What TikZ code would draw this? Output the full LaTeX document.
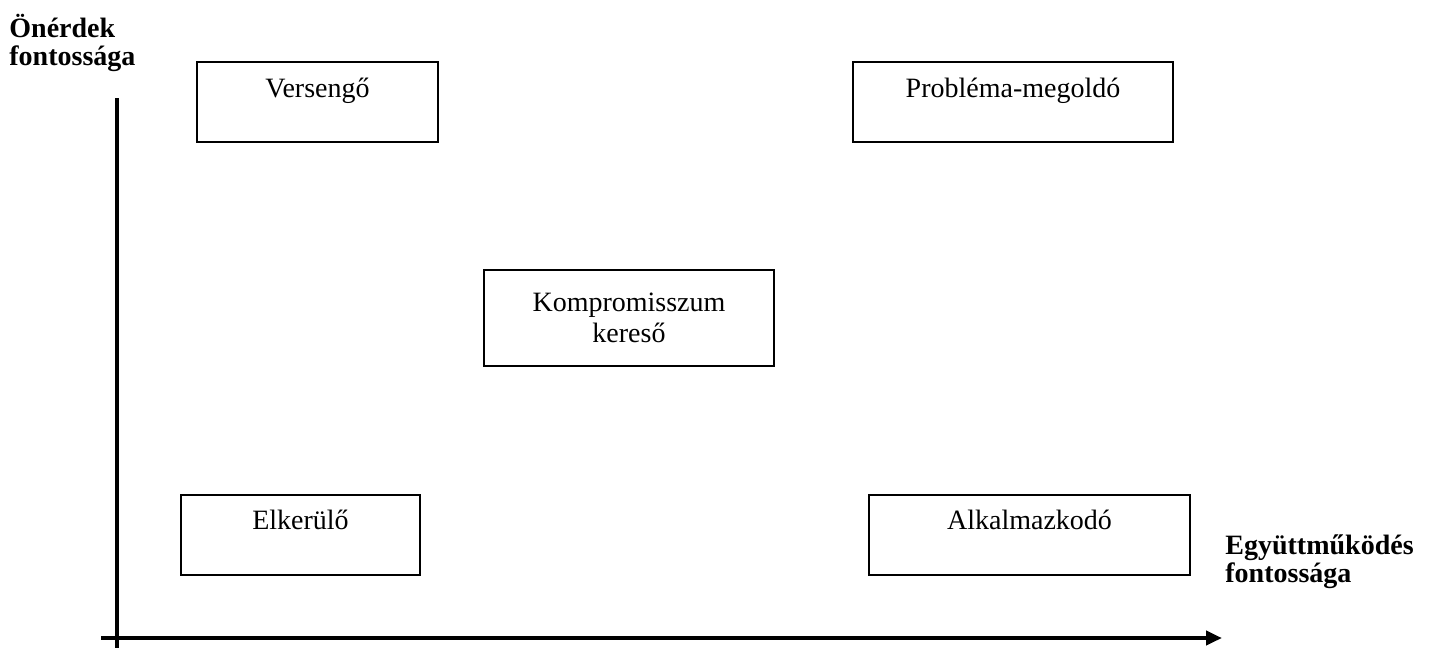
\documentclass[tikz,border=0pt]{standalone}
\usepackage{fontspec}
\setmainfont{Liberation Serif}
\usetikzlibrary{arrows.meta}
\newcommand{\setupaxes}{
    \coordinate (o) at (117,638);
    \coordinate (ytop) at (117,98);
    \coordinate (ybot) at (117,648);
    \coordinate (xleft) at (101,638);
    \coordinate (xright) at (1222,638);
}
\tikzset{
    stylebox/.style={draw, line width=1pt, inner sep=0pt, font=\fontsize{14}{15.5}\selectfont},
    onerow/.style={text height=17.5pt, text depth=22.5pt},
    axislabel/.style={inner sep=0pt, align=left, font=\fontsize{14}{14}\selectfont\bfseries},
}
\begin{document}
\begin{tikzpicture}[x=0.5pt,y=-0.5pt]
    \useasboundingbox (0,0) rectangle (1429,648);
    \setupaxes;

    \draw[line width=2pt] (ytop) -- (ybot);
    \draw[line width=2pt,-{Triangle[length=8pt,width=7pt]}] (xleft) -- (xright);

    \node[axislabel,anchor=base west] (onerdek) at (9,65) {Önérdek\\fontossága};
    \node[axislabel,anchor=base west] (egyutt) at (1225,582) {Együttműködés\\fontossága};

    \node[stylebox,onerow,minimum width=120.5pt] (versengo) at (317.5,102) {Versengő};
    \node[stylebox,onerow,minimum width=160pt]   (problema) at (1013,102) {Probléma-megoldó};
    \node[stylebox,align=center,minimum width=145pt,minimum height=48pt] (kompromisszum) at (629,318) {Kompromisszum\\kereső};
    \node[stylebox,onerow,minimum width=119.5pt] (elkerulo) at (300.5,534.5) {Elkerülő};
    \node[stylebox,onerow,minimum width=160.5pt] (alkalmazkodo) at (1029.5,534.5) {Alkalmazkodó};
\end{tikzpicture}
\end{document}
